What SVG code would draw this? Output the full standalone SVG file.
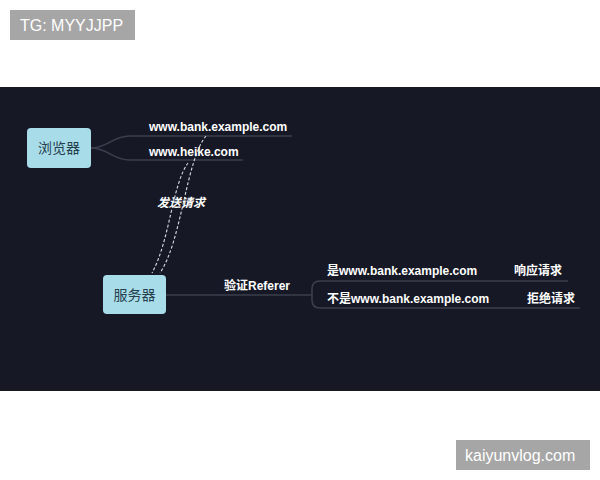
<svg xmlns="http://www.w3.org/2000/svg" width="600" height="480" viewBox="0 0 600 480">
<style>
.tag{fill:#a6a6a6}
.tagt{font-family:"Liberation Sans",Arial,sans-serif;font-size:16px;fill:#ffffff}
.node{fill:#a9dce9}
.nt{font-family:"Noto Sans CJK SC","Noto Sans",sans-serif;font-size:14px;fill:#24404c;text-anchor:middle}
.lbl{font-family:"Liberation Sans","Noto Sans CJK SC",sans-serif;font-size:12px;font-weight:bold;fill:#ffffff}
.ln{fill:none;stroke:#3b3e4b;stroke-width:1.6}
.dash{fill:none;stroke:#d9dde4;stroke-width:1.1;stroke-dasharray:3 2}
</style>
<rect width="600" height="480" fill="#ffffff"/>
<rect x="0" y="87" width="600" height="304" fill="#161826"/>
<g id="tag-top">
<rect class="tag" x="10" y="10" width="125" height="30"/>
<text class="tagt" x="20" y="31">TG: MYYJJPP</text>
</g>
<g id="tag-bottom">
<rect class="tag" x="456" y="440" width="134" height="30"/>
<text class="tagt" x="465" y="461">kaiyunvlog.com</text>
</g>
<g id="connectors">
<path class="ln" d="M91,148 C108,148 112,136 130,136 L292,136"/>
<path class="ln" d="M91,148 C108,148 112,160 130,160 L243,160"/>
<path class="ln" d="M166,295 L312,295"/>
<path class="ln" d="M312,295 L312,289 Q312,281 320,281 L568,281"/>
<path class="ln" d="M312,295 L312,300 Q312,308 320,308 L580,308"/>
<path class="dash" d="M188,163 C172,185 170,240 152,273"/>
<path class="dash" d="M206,136 C186,160 182,240 160,273"/>
<text class="lbl" x="157" y="207" font-style="italic" font-family="'Noto Sans CJK SC',sans-serif">发送请求</text>
<text class="lbl" x="224" y="290">验证Referer</text>
</g>
<g id="browser">
<rect class="node" x="27" y="128" width="64" height="40" rx="4"/>
<text class="nt" x="59" y="153">浏览器</text>
</g>
<g id="server">
<rect class="node" x="103" y="275" width="63" height="39" rx="4"/>
<text class="nt" x="134.5" y="300">服务器</text>
</g>
<g id="bank">
<text class="lbl" x="149" y="131">www.bank.example.com</text>
</g>
<g id="heike">
<text class="lbl" x="149" y="156">www.heike.com</text>
</g>
<g id="yes">
<text class="lbl" x="327" y="275">是www.bank.example.com</text>
</g>
<g id="respond">
<text class="lbl" x="514" y="275">响应请求</text>
</g>
<g id="no">
<text class="lbl" x="327" y="303">不是www.bank.example.com</text>
</g>
<g id="reject">
<text class="lbl" x="527" y="303">拒绝请求</text>
</g>
</svg>
